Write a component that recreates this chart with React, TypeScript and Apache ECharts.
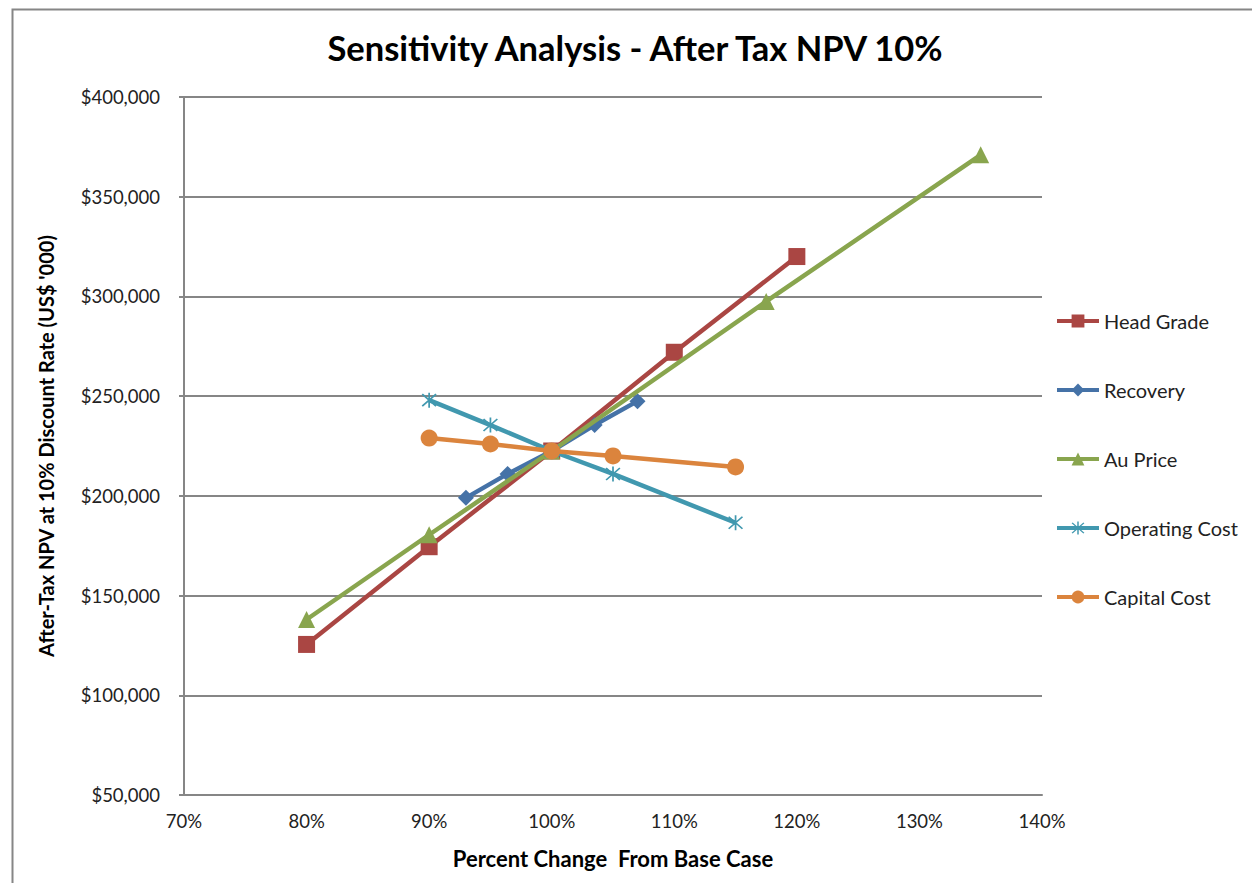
import React, { useEffect, useRef } from "react";
import * as echarts from "echarts";

// Percent change from base case (x) and after-tax NPV (US$ '000) (y)
const headGradeX = [80, 90, 100, 110, 120];
const headGradeY = [125500, 174500, 222500, 272000, 320000];

const recoveryX = [93, 96.4, 100, 103.5, 107];
const recoveryY = [199000, 211000, 222500, 235500, 247500];

const auPriceX = [80, 90, 100, 117.5, 135];
const auPriceY = [138000, 180500, 222500, 297500, 371000];

const operatingCostX = [90, 95, 100, 105, 115];
const operatingCostY = [248000, 235500, 222500, 211000, 186500];

const capitalCostX = [90, 95, 100, 105, 115];
const capitalCostY = [229000, 226000, 222500, 220000, 214500];

const seriesNames = ["Head Grade", "Recovery", "Au Price", "Operating Cost", "Capital Cost"];
const seriesColors = ["#AA4643", "#4572A7", "#89A54E", "#4198AF", "#DB843D"];

// Asterisk marker: a vertical bar plus two diagonals
const ASTERISK =
  "path://M9 0 L11 0 L11 20 L9 20 Z M1.3 2.7 L2.7 1.3 L18.7 17.3 L17.3 18.7 Z M17.3 1.3 L18.7 2.7 L2.7 18.7 L1.3 17.3 Z";

const FONT = "Lato, 'Open Sans', sans-serif";

const zip = (xs: number[], ys: number[]) => xs.map((x, i) => [x, ys[i]]);

export default function App() {
  const ref = useRef<HTMLDivElement>(null);

  useEffect(() => {
    if (!ref.current) return;
    const chart = echarts.init(ref.current, undefined, { renderer: "svg" });

    const lineSeries = (
      idx: number,
      data: number[][],
      symbol: string,
      symbolSize: number
    ) => ({
      name: seriesNames[idx],
      type: "line",
      data,
      symbol,
      symbolSize,
      showSymbol: true,
      lineStyle: { color: seriesColors[idx], width: 4.5 },
      itemStyle: { color: seriesColors[idx] },
      z: 2 + idx,
    });

    chart.setOption({
      animation: false,
      backgroundColor: "#ffffff",
      textStyle: { fontFamily: FONT },
      title: {
        text: "Sensitivity Analysis - After Tax NPV 10%",
        left: 630,
        top: 25,
        textAlign: "center",
        textStyle: { fontFamily: FONT, fontSize: 34.5, fontWeight: "bold", color: "#000" },
      },
      grid: { left: 184, right: 210, top: 97, bottom: 88, containLabel: false },
      legend: {
        orient: "vertical",
        left: 1050,
        top: 305,
        itemWidth: 42,
        itemHeight: 16,
        itemGap: 47,
        lineStyle: { width: 4 },
        textStyle: { fontFamily: FONT, fontSize: 20, color: "#222", lineHeight: 22 },
        data: seriesNames,
      },
      xAxis: {
        type: "value",
        min: 70,
        max: 140,
        interval: 10,
        name: "Percent Change  From Base Case",
        nameLocation: "middle",
        nameGap: 52,
        nameTextStyle: { fontFamily: FONT, fontSize: 22, fontWeight: "bold", color: "#000" },
        axisLine: { show: true, lineStyle: { color: "#868686", width: 2 } },
        axisTick: { show: false },
        splitLine: { show: false },
        axisLabel: {
          formatter: "{value}%",
          fontFamily: FONT,
          fontSize: 18.5,
          color: "#222",
          margin: 16,
        },
      },
      yAxis: {
        type: "value",
        min: 50000,
        max: 400000,
        interval: 50000,
        name: "After-Tax NPV at 10% Discount Rate (US$ '000)",
        nameLocation: "middle",
        nameGap: 128,
        nameTextStyle: { fontFamily: FONT, fontSize: 20, fontWeight: "bold", color: "#000" },
        axisLine: { show: true, lineStyle: { color: "#868686", width: 2 } },
        axisTick: { show: true, length: 5, lineStyle: { color: "#868686", width: 2 } },
        splitLine: { show: true, lineStyle: { color: "#868686", width: 2 } },
        axisLabel: {
          formatter: (v: number) => "$" + v.toLocaleString("en-US"),
          fontFamily: FONT,
          fontSize: 18.5,
          color: "#222",
          margin: 24,
        },
      },
      graphic: [
        {
          type: "rect",
          left: 10,
          top: 7,
          shape: { width: 1400, height: 1000 },
          style: { fill: "none", stroke: "#868686", lineWidth: 2 },
          silent: true,
        },
      ],
      series: [
        lineSeries(0, zip(headGradeX, headGradeY), "rect", 17),
        lineSeries(1, zip(recoveryX, recoveryY), "diamond", 16),
        lineSeries(2, zip(auPriceX, auPriceY), "triangle", 17),
        lineSeries(3, zip(operatingCostX, operatingCostY), ASTERISK, 15),
        lineSeries(4, zip(capitalCostX, capitalCostY), "circle", 17),
      ],
    });

    return () => chart.dispose();
  }, []);

  return (
    <div
      ref={ref}
      style={{ position: "fixed", left: 0, top: 0, width: 1252, height: 883 }}
    />
  );
}
